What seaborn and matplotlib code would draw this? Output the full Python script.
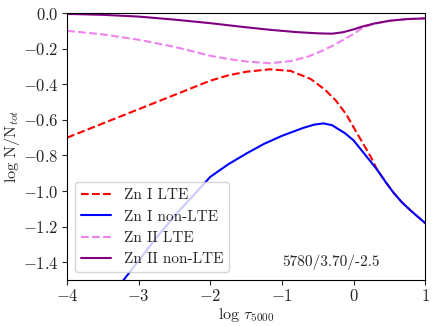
import matplotlib
matplotlib.use("Agg")
import matplotlib.pyplot as plt
import seaborn as sns

# Zn I LTE
x_zn1_lte = [-4.0, -3.5, -3.0, -2.5, -2.0, -1.75, -1.5, -1.17, -0.88, -0.6, -0.4, -0.25, -0.1, 0.05,
             0.15, 0.24, 0.33, 0.45, 0.56, 0.68, 0.8, 0.9, 1.0]
y_zn1_lte = [-0.70, -0.62, -0.54, -0.46, -0.38, -0.35, -0.33, -0.316, -0.325, -0.37, -0.43, -0.49, -0.57, -0.676,
             -0.745, -0.807, -0.88, -0.95, -1.01, -1.065, -1.11, -1.145, -1.18]

# Zn I non-LTE
x_zn1_nlte = [-3.25, -3.0, -2.75, -2.5, -2.25, -2.0, -1.75, -1.5, -1.25, -1.0, -0.7, -0.55, -0.42, -0.3,
              -0.12, 0.0, 0.11, 0.22, 0.33, 0.45, 0.56, 0.68, 0.8, 0.9, 1.0]
y_zn1_nlte = [-1.52, -1.39, -1.26, -1.14, -1.03, -0.92, -0.85, -0.79, -0.735, -0.69, -0.645, -0.627, -0.62, -0.63,
              -0.675, -0.715, -0.77, -0.825, -0.88, -0.95, -1.01, -1.065, -1.11, -1.145, -1.18]

# Zn II LTE
x_zn2_lte = [-4.0, -3.5, -3.0, -2.5, -2.0, -1.75, -1.5, -1.17, -0.88, -0.65, -0.46, -0.3, -0.14, 0.0,
             0.1, 0.2, 0.3, 0.51, 0.75, 1.0]
y_zn2_lte = [-0.10, -0.12, -0.15, -0.19, -0.24, -0.258, -0.272, -0.282, -0.27, -0.247, -0.216, -0.185, -0.15, -0.118,
             -0.09, -0.072, -0.06, -0.043, -0.034, -0.03]

# Zn II non-LTE
x_zn2_nlte = [-4.0, -3.5, -3.0, -2.5, -2.0, -1.5, -1.17, -0.8, -0.5, -0.3, -0.15, 0.0, 0.13, 0.3, 0.51, 0.75, 1.0]
y_zn2_nlte = [-0.005, -0.01, -0.02, -0.037, -0.057, -0.08, -0.094, -0.107, -0.114, -0.116, -0.108, -0.092, -0.075,
              -0.058, -0.043, -0.034, -0.03]

model_label = "5780/3.70/-2.5"

sns.set_style("ticks")
plt.rcParams.update({
    "font.family": "serif",
    "font.serif": ["cmr10"],
    "mathtext.fontset": "cm",
    "axes.formatter.use_mathtext": True,
    "font.size": 11,
    "xtick.labelsize": 12,
    "ytick.labelsize": 12,
    "xtick.major.pad": 2.5,
    "ytick.major.pad": 2.5,
    "axes.labelsize": 11.5,
    "axes.edgecolor": "black",
})

fig = plt.figure(figsize=(4.36, 3.26), dpi=100)
ax = fig.add_axes([0.154, 0.141, 0.821, 0.819])

sns.lineplot(x=x_zn1_lte, y=y_zn1_lte, color="red", ls="--", lw=1.5, label="Zn I LTE", sort=False, ax=ax)
sns.lineplot(x=x_zn1_nlte, y=y_zn1_nlte, color="blue", lw=1.5, label="Zn I non-LTE", sort=False, ax=ax)
sns.lineplot(x=x_zn2_lte, y=y_zn2_lte, color="violet", ls="--", lw=1.5, label="Zn II LTE", sort=False, ax=ax)
sns.lineplot(x=x_zn2_nlte, y=y_zn2_nlte, color="purple", lw=1.5, label="Zn II non-LTE", sort=False, ax=ax)

ax.set_xlim(-4, 1)
ax.set_ylim(-1.5, 0)
ax.set_xlabel(r"log $\tau_{5000}$", labelpad=1)
ax.set_ylabel(r"log N/N$_{tot}$", labelpad=1)
ax.text(-1.0, -1.42, model_label, fontsize=11)
ax.legend(loc="lower left", fontsize=11)

fig.savefig("out.png", dpi=100)
